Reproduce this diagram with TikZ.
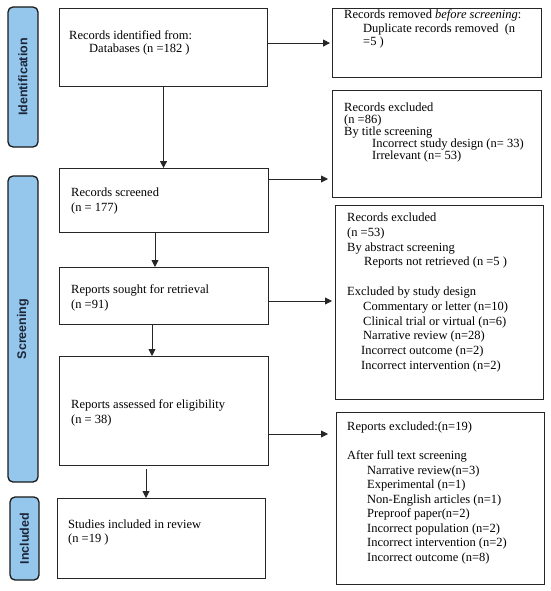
\documentclass[tikz,border=0pt]{standalone}
\usepackage{fontspec}
\setmainfont{Liberation Serif}
\newfontfamily\sidefont{Liberation Sans}
\usetikzlibrary{arrows.meta,calc}
\definecolor{sideblue}{HTML}{95C6EC}
\definecolor{sidetext}{HTML}{1B2638}
\tikzset{
  box/.style={draw=black!85, line width=1.1pt, anchor=north west, inner sep=0pt},
  side/.style={draw=black!90, line width=1.3pt, fill=sideblue, rounded corners=5pt,
    rotate=90, inner sep=0pt, font=\sidefont\bfseries\fontsize{12.5}{14}\selectfont, text=sidetext},
  txt/.style={align=left, inner sep=0pt, anchor=north west},
  arr/.style={-{Triangle[length=7pt,width=7pt]}, line width=0.9pt, draw=black!85},
}
\begin{document}
\begin{tikzpicture}[x=1pt,y=1pt]
\useasboundingbox (0,0) rectangle (550,-591);
% sidebars
\node[side, minimum width=140, minimum height=30] (sid) at (23,-77) {Identification};
\node[side, minimum width=306, minimum height=30] (sscr) at (23,-329) {Screening};
\node[side, minimum width=83, minimum height=29] (sinc) at (24.5,-538.5) {Included};
% boxes
\node[box, minimum width=208, minimum height=78] (b1) at (59,-8) {};
\node[box, minimum width=209, minimum height=69] (rem) at (332,-8) {};
\node[box, minimum width=209, minimum height=107] (ex1) at (332,-90) {};
\node[box, minimum width=209, minimum height=64] (b2) at (59,-168) {};
\node[box, minimum width=209, minimum height=57] (b3) at (59,-267) {};
\node[box, minimum width=208, minimum height=194] (ex2) at (335,-205) {};
\node[box, minimum width=209, minimum height=109] (b4) at (59,-356) {};
\node[box, minimum width=208, minimum height=172] (ex3) at (336,-412) {};
\node[box, minimum width=208, minimum height=80] (b5) at (57,-498) {};
% texts
\node[txt, font=\fontsize{12.5}{13.3}\selectfont] (t1) at (69,-30)
  {Records identified from:\\\hspace*{20pt}Databases (n =182 )};
\node[txt, font=\fontsize{12.5}{13.3}\selectfont] (trem) at (344,-10)
  {Records removed \textit{before screening}:\\\hspace*{19pt}Duplicate records removed~~(n\\\hspace*{19pt}=5 )};
\node[txt, font=\fontsize{12.5}{12}\selectfont] (tex1) at (344,-103)
  {Records excluded\\(n =86)\\By title screening\\\hspace*{28pt}Incorrect study design (n= 33)\\\hspace*{28pt}Irrelevant (n= 53)};
\node[txt, font=\fontsize{12.5}{14.3}\selectfont] (t2) at (71,-188)
  {Records screened\\(n = 177)};
\node[txt, font=\fontsize{12.5}{15.3}\selectfont] (t3) at (71,-284)
  {Reports sought for retrieval\\(n =91)};
\node[txt, font=\fontsize{12.5}{14.7}\selectfont] (tex2) at (347,-213)
  {Records excluded\\(n =53)\\By abstract screening\\\hspace*{17pt}Reports not retrieved (n =5 )\\[15pt]Excluded by study design\\\hspace*{16pt}Commentary or letter (n=10)\\\hspace*{16pt}Clinical trial or virtual (n=6)\\\hspace*{16pt}Narrative review (n=28)\\\hspace*{14pt}Incorrect outcome (n=2)\\\hspace*{14pt}Incorrect intervention (n=2)};
\node[txt, font=\fontsize{12.5}{15}\selectfont] (t4) at (71,-399)
  {Reports assessed for eligibility\\(n = 38)};
\node[txt, font=\fontsize{12.5}{14.5}\selectfont] (tex3) at (347,-422)
  {Reports excluded:(n=19)\\[14.5pt]After full text screening\\\hspace*{20pt}Narrative review(n=3)\\\hspace*{20pt}Experimental (n=1)\\\hspace*{20pt}Non-English articles (n=1)\\\hspace*{20pt}Preproof paper(n=2)\\\hspace*{20pt}Incorrect population (n=2)\\\hspace*{20pt}Incorrect intervention (n=2)\\\hspace*{20pt}Incorrect outcome (n=8)};
\node[txt, font=\fontsize{12.5}{14}\selectfont] (t5) at (68,-520)
  {Studies included in review\\(n =19 )};
% vertical arrows
\draw[arr] (b1.south) -- (b1.south |- b2.north);
\coordinate (v2) at ($(b2.south west)+(96,0)$);
\draw[arr] (v2) -- (v2 |- b3.north);
\coordinate (v3) at ($(b3.south west)+(93,0)$);
\draw[arr] (v3) -- (v3 |- b4.north);
\coordinate (v4) at ($(b4.south west)+(87,-3)$);
\draw[arr] (v4) -- (v4 |- b5.north);
% horizontal arrows
\draw[arr, shorten >=2pt] (rem.west -| b1.east) -- (rem.west);
\coordinate (h2) at ($(b2.north east)+(0,-11)$);
\draw[arr, shorten >=4pt] (h2) -- (h2 -| ex1.west);
\coordinate (h3) at ($(b3.north east)+(0,-34)$);
\draw[arr, shorten >=3pt] (h3) -- (h3 -| ex2.west);
\coordinate (h4) at ($(b4.north east)+(0,-78)$);
\draw[arr, shorten >=8pt] (h4) -- (h4 -| ex3.west);
\end{tikzpicture}
\end{document}
